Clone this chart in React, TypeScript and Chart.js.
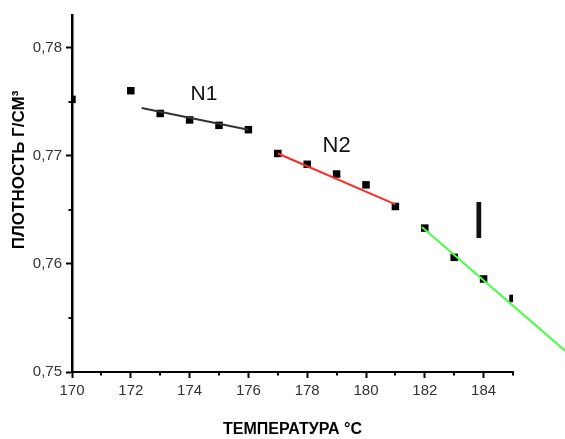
import React, { useEffect, useRef } from 'react';
import { Chart, registerables } from 'chart.js';

Chart.register(...registerables);

// Measured points (temperature °C, density g/cm³)
const temperatures = [170, 172, 173, 174, 175, 176, 177, 178, 179, 180, 181, 182, 183, 184, 185];
const densities = [0.7752, 0.776, 0.7739, 0.7733, 0.7728, 0.7724, 0.7702, 0.7692, 0.7683, 0.7673, 0.7653, 0.7633, 0.7606, 0.7586, 0.7568];

// Fit lines for the three regions
const fitN1X = [172.37, 176.0];
const fitN1Y = [0.7744, 0.7724];
const fitN2X = [177.0, 181.0];
const fitN2Y = [0.7702, 0.7655];
const fitIX = [181.9, 186.8];
const fitIY = [0.7634, 0.7519];

// Minor ticks
const xMinorTicks = [171, 173, 175, 177, 179, 181, 183, 185];
const yMinorTicks = [0.755, 0.765, 0.775];

// Region labels
const regionLabels = ['N1', 'N2', 'I'];
const regionLabelX = [174.49, 179.0, 183.84];
const regionLabelY = [0.7758, 0.7711, 0.7641];
const regionLabelSize = [21, 22, 51];

const xTitle = 'ТЕМПЕРАТУРА °С';
const yTitle = 'ПЛОТНОСТЬ Г/СМ³';

const SANS = '"Liberation Sans", Arial, sans-serif';

const toXY = (xs: number[], ys: number[]) => xs.map((x, i) => ({ x, y: ys[i] }));

const extrasPlugin = {
  id: 'extras',
  afterDraw(chart: any) {
    const { ctx, scales } = chart;
    const xs = scales.x;
    const ys = scales.y;
    const area = chart.chartArea;
    ctx.save();
    // minor ticks
    ctx.strokeStyle = '#000';
    ctx.lineWidth = 2;
    ctx.beginPath();
    xMinorTicks.forEach((v) => {
      const px = Math.round(xs.getPixelForValue(v));
      ctx.moveTo(px, area.bottom);
      ctx.lineTo(px, area.bottom + 3.5);
    });
    yMinorTicks.forEach((v) => {
      const py = Math.round(ys.getPixelForValue(v));
      ctx.moveTo(area.left, py);
      ctx.lineTo(area.left - 3.5, py);
    });
    ctx.stroke();

    // region labels
    ctx.fillStyle = '#111';
    ctx.textAlign = 'center';
    ctx.textBaseline = 'alphabetic';
    regionLabels.forEach((t, i) => {
      const size = regionLabelSize[i];
      ctx.font = `${size}px ${SANS}`;
      const px = xs.getPixelForValue(regionLabelX[i]);
      const py = ys.getPixelForValue(regionLabelY[i]);
      ctx.fillText(t, px, py + size * 0.358);
    });

    // axis titles
    ctx.fillStyle = '#000';
    ctx.font = `bold 16px ${SANS}`;
    ctx.fillText(xTitle, (area.left + area.right) / 2, 434);

    ctx.translate(24, 170);
    ctx.rotate(-Math.PI / 2);
    ctx.font = `bold 17px ${SANS}`;
    ctx.fillText(yTitle, 0, 0);
    ctx.restore();
  },
};

export default function App() {
  const canvasRef = useRef<HTMLCanvasElement | null>(null);

  useEffect(() => {
    document.body.style.margin = '0';
    const canvas = canvasRef.current;
    if (!canvas) return;
    const chart = new Chart(canvas, {
      type: 'scatter',
      data: {
        datasets: [
          {
            label: 'N1 fit',
            data: toXY(fitN1X, fitN1Y),
            showLine: true,
            borderColor: '#333333',
            borderWidth: 2,
            pointRadius: 0,
          },
          {
            label: 'N2 fit',
            data: toXY(fitN2X, fitN2Y),
            showLine: true,
            borderColor: '#ff2a2a',
            borderWidth: 2,
            pointRadius: 0,
          },
          {
            label: 'I fit',
            data: toXY(fitIX, fitIY),
            showLine: true,
            borderColor: '#44ff44',
            borderWidth: 2,
            pointRadius: 0,
            clip: false,
          },
          {
            label: 'Плотность',
            data: toXY(temperatures, densities),
            showLine: false,
            pointStyle: 'rect',
            pointRadius: 5.3,
            backgroundColor: '#000',
            borderColor: '#000',
            borderWidth: 0,
            clip: 0,
          },
        ],
      } as any,
      options: {
        responsive: false,
        animation: false,
        layout: { padding: { top: 15, right: 52, left: 0, bottom: 0 } },
        plugins: {
          legend: { display: false },
          tooltip: { enabled: false },
        },
        scales: {
          x: {
            type: 'linear',
            min: 170,
            max: 185,
            afterFit: (s: any) => {
              s.height = 67;
            },
            ticks: {
              stepSize: 2,
              includeBounds: false,
              color: '#333',
              font: { size: 15, family: SANS },
              padding: 4,
              callback: (v: any) => String(v),
            },
            grid: {
              display: true,
              drawOnChartArea: false,
              drawTicks: true,
              tickLength: 6,
              tickWidth: 2,
              tickColor: '#000',
            },
            border: { display: true, color: '#000', width: 2 },
          },
          y: {
            type: 'linear',
            min: 0.75,
            max: 0.783,
            afterFit: (s: any) => {
              s.width = 72;
            },
            ticks: {
              stepSize: 0.01,
              includeBounds: false,
              color: '#333',
              font: { size: 15, family: SANS },
              padding: 4,
              callback: (v: any) => Number(v).toFixed(2).replace('.', ','),
            },
            grid: {
              display: true,
              drawOnChartArea: false,
              drawTicks: true,
              tickLength: 6,
              tickWidth: 2,
              tickColor: '#000',
            },
            border: { display: true, color: '#000', width: 2.5 },
          },
        },
      },
      plugins: [extrasPlugin],
    });
    return () => chart.destroy();
  }, []);

  return (
    <div style={{ width: 565, height: 439, background: '#fff' }}>
      <canvas ref={canvasRef} width={565} height={439} />
    </div>
  );
}
